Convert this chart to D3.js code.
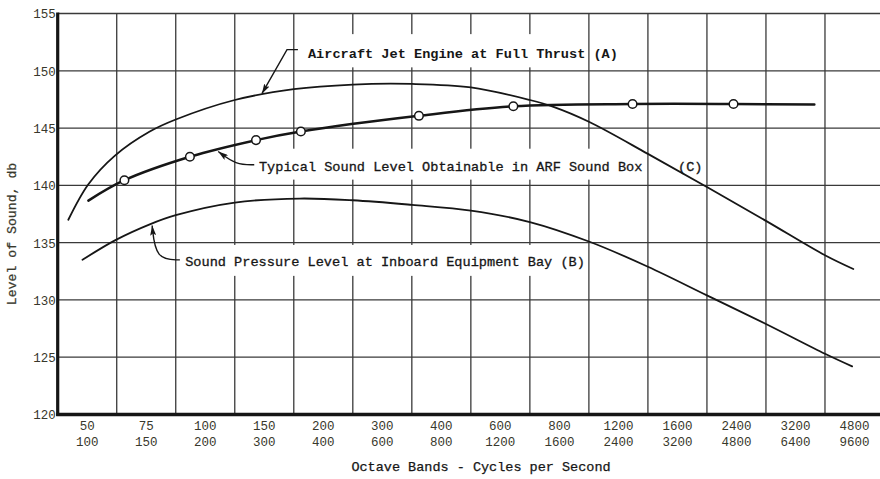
<!DOCTYPE html>
<html>
<head>
<meta charset="utf-8">
<script src="https://cdn.jsdelivr.net/npm/d3@7"></script>
<style>
  html, body { margin: 0; padding: 0; background: #fff; }
  svg { display: block; }
</style>
</head>
<body>
<svg id="chart" width="880" height="479"></svg>
<script>
// ---------- DATA ----------
const bandTop    = ["50","75","100","150","200","300","400","600","800","1200","1600","2400","3200","4800"];
const bandBottom = ["100","150","200","300","400","600","800","1200","1600","2400","3200","4800","6400","9600"];
const yTicks = [120,125,130,135,140,145,150,155];

// positions are in octave-band units measured from the left axis
const jetPos = [0.18,0.52,0.97,1.56,2.0,3.0,4.0,5.0,6.0,7.0,8.0,8.4,9.0,10.0,11.0,12.0,13.0,13.48];
const jetDb  = [137.0,140.1,142.6,144.7,145.75,147.45,148.4,148.8,148.85,148.55,147.45,146.85,145.55,142.75,139.85,136.9,133.9,132.7];

const boxPos = [0.52,1.13,2.24,3.36,4.12,6.12,7.72,9.74,11.45,12.82];
const boxDb  = [138.67,140.45,142.5,143.95,144.7,146.07,146.9,147.1,147.1,147.05];
const boxMarkPos = [1.13,2.24,3.36,4.12,6.12,7.72,9.74,11.45];
const boxMarkDb  = [140.45,142.5,143.95,144.7,146.07,146.9,147.1,147.1];

const bayPos = [0.42,0.97,1.56,2.0,3.0,4.1,5.0,6.0,7.0,8.0,9.0,10.0,11.0,12.0,13.0,13.46];
const bayDb  = [133.5,135.2,136.6,137.4,138.5,138.85,138.7,138.3,137.8,136.8,135.1,132.9,130.4,127.9,125.3,124.2];

const labelA = "Aircraft Jet Engine at Full Thrust (A)";
const labelC = "Typical Sound Level Obtainable in ARF Sound Box";
const labelC2 = "(C)";
const labelB = "Sound Pressure Level at Inboard Equipment Bay (B)";
const xTitle = "Octave Bands - Cycles per Second";
const yTitle = "Level of Sound, db";

// ---------- LAYOUT ----------
const svg = d3.select("#chart");
const X0 = 57.7, X1 = 884, YB = 414.5, YT = 13.5;

const xBand = d3.scaleBand().domain(bandTop).range([X0, X1]).paddingInner(0).paddingOuter(0);
const xPos = d3.scaleLinear().domain([0, bandTop.length]).range([X0, X1]);
const y = d3.scaleLinear().domain([120, 155]).range([YB, YT]);

const ink = "#161616";
const gridInk = "#3a3a3a";
const labelInk = "#38382c";
const mono = "'Liberation Mono', 'Courier New', monospace";

// ---------- GRID ----------
const grid = svg.append("g");
grid.selectAll("line.h").data(yTicks.filter(v => v > 120)).join("line")
  .attr("x1", X0).attr("x2", 880)
  .attr("y1", d => y(d)).attr("y2", d => y(d))
  .attr("stroke", gridInk).attr("stroke-width", d => d === 155 ? 1.6 : 1.3);
grid.selectAll("line.v").data(d3.range(1, bandTop.length + 1)).join("line")
  .attr("x1", d => xPos(d)).attr("x2", d => xPos(d))
  .attr("y1", y(155)).attr("y2", y(120))
  .attr("stroke", gridInk).attr("stroke-width", 1.3);

// ---------- LABEL MASKS ----------
const masks = [
  {u0: 4.04, u1: 8.95, d0: 150.3, d1: 153.2},
  {u0: 3.33, u1: 9.95, d0: 140.5, d1: 143.2},
  {u0: 2.07, u1: 8.93, d0: 132.1, d1: 134.8}
];
svg.append("g").selectAll("rect").data(masks).join("rect")
  .attr("x", d => xPos(d.u0)).attr("width", d => xPos(d.u1) - xPos(d.u0))
  .attr("y", d => y(d.d1)).attr("height", d => y(d.d0) - y(d.d1))
  .attr("fill", "#fff");

// ---------- AXES ----------
svg.append("line").attr("x1", X0).attr("x2", X0).attr("y1", YT - 1).attr("y2", YB + 1.5)
  .attr("stroke", ink).attr("stroke-width", 3.2);
svg.append("line").attr("x1", X0 - 1.5).attr("x2", 880).attr("y1", YB).attr("y2", YB)
  .attr("stroke", ink).attr("stroke-width", 3.6);

const yAxis = svg.append("g").attr("transform", `translate(${X0 - 1},0)`)
  .call(d3.axisLeft(y).tickValues(yTicks).tickSize(0).tickPadding(1).tickFormat(d3.format("d")));
yAxis.select(".domain").remove();
yAxis.selectAll("text").attr("font-family", mono).attr("font-size", 12.5)
  .attr("fill", labelInk).attr("dy", "0.35em");

const xAxis = svg.append("g").attr("transform", `translate(0,${YB})`)
  .call(d3.axisBottom(xBand).tickSize(0).tickPadding(0));
xAxis.select(".domain").remove();
xAxis.selectAll("text").each(function(d, i) {
  const t = d3.select(this).text(null)
    .attr("font-family", mono).attr("font-size", 12.5).attr("fill", labelInk)
    .attr("y", 0).attr("dy", null);
  t.append("tspan").attr("x", 0).attr("y", 15).text(bandTop[i]);
  t.append("tspan").attr("x", 0).attr("y", 31.5).text(bandBottom[i]);
});

svg.append("text").attr("x", 481).attr("y", 471)
  .attr("text-anchor", "middle").attr("font-family", mono).attr("font-size", 13.5)
  .attr("fill", ink).attr("stroke", ink).attr("stroke-width", 0.25).text(xTitle);

svg.append("text").attr("transform", "translate(16,234) rotate(-90)")
  .attr("text-anchor", "middle").attr("font-family", mono).attr("font-size", 13.2)
  .attr("fill", labelInk).attr("stroke", labelInk).attr("stroke-width", 0.25).text(yTitle);

// ---------- CURVES ----------
const line = d3.line().x(d => xPos(d[0])).y(d => y(d[1])).curve(d3.curveCatmullRom.alpha(0.5));
const series = [
  {pos: jetPos, db: jetDb, w: 1.8},
  {pos: bayPos, db: bayDb, w: 1.8},
  {pos: boxPos, db: boxDb, w: 2.5}
];
svg.append("g").selectAll("path").data(series).join("path")
  .attr("d", s => line(s.pos.map((p, i) => [p, s.db[i]])))
  .attr("fill", "none").attr("stroke", ink).attr("stroke-width", s => s.w)
  .attr("stroke-linecap", "round");

svg.append("g").selectAll("circle").data(boxMarkPos.map((p, i) => [p, boxMarkDb[i]])).join("circle")
  .attr("cx", d => xPos(d[0])).attr("cy", d => y(d[1])).attr("r", 4.3)
  .attr("fill", "#fff").attr("stroke", ink).attr("stroke-width", 1.5);

// ---------- ANNOTATIONS ----------
const defs = svg.append("defs");
defs.append("marker").attr("id", "arrow").attr("viewBox", "0 0 10 6")
  .attr("refX", 10).attr("refY", 3).attr("markerWidth", 10).attr("markerHeight", 6)
  .attr("markerUnits", "userSpaceOnUse").attr("orient", "auto")
  .append("path").attr("d", "M0,0 L10,3 L0,6 L2,3 Z").attr("fill", ink);

const leaderLine = d3.line().x(d => xPos(d[0])).y(d => y(d[1]));
const leaderCurve = d3.line().x(d => xPos(d[0])).y(d => y(d[1])).curve(d3.curveBasis);
const leaders = [
  {pts: [[4.07,151.85],[3.885,151.85],[3.46,148.0]], gen: leaderLine},
  {pts: [[3.33,141.8],[3.02,141.8],[2.72,142.95]], gen: leaderCurve},
  {pts: [[2.07,133.5],[1.66,133.5],[1.6,136.5]], gen: leaderCurve}
];
svg.append("g").selectAll("path").data(leaders).join("path")
  .attr("d", l => l.gen(l.pts))
  .attr("fill", "none").attr("stroke", ink).attr("stroke-width", 1.4)
  .attr("marker-end", "url(#arrow)");

const notes = [
  {t: labelA, u: 4.24, d: 151.55, bold: true},
  {t: labelC, u: 3.41, d: 141.64, bold: false},
  {t: labelC2, u: 10.51, d: 141.64, bold: false},
  {t: labelB, u: 2.16, d: 133.38, bold: false}
];
svg.append("g").selectAll("text").data(notes).join("text")
  .attr("x", n => xPos(n.u)).attr("y", n => y(n.d)).attr("dy", "0.35em")
  .attr("font-family", mono).attr("font-size", 13.6)
  .attr("font-weight", n => n.bold ? "bold" : "normal")
  .attr("fill", ink).attr("stroke", ink).attr("stroke-width", n => n.bold ? 0 : 0.3)
  .text(n => n.t);
</script>
</body>
</html>
